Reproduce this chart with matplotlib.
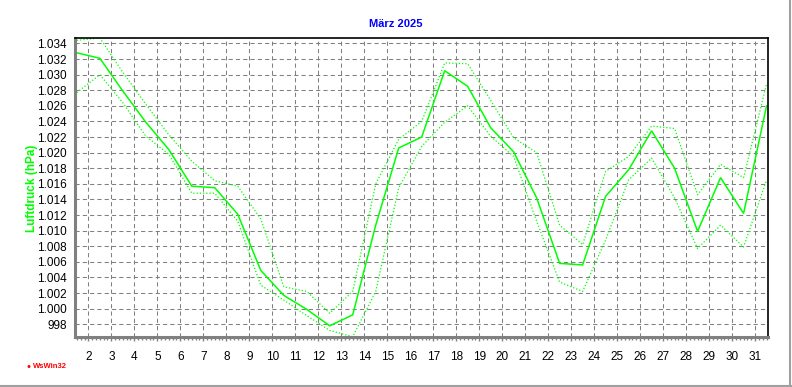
import matplotlib
matplotlib.use('Agg')
import matplotlib.pyplot as plt
from matplotlib.lines import Line2D
from matplotlib.ticker import FuncFormatter, MultipleLocator

# daily air pressure values for March 2025 (hPa), one per day
days = list(range(1, 32))
p_mean = [1032.8, 1032.1, 1027.9, 1023.9, 1020.4, 1015.7, 1015.5, 1012.1, 1004.9, 1001.7,
          999.9, 997.8, 999.2, 1010.7, 1020.6, 1022.0, 1030.5, 1028.5, 1023.2, 1020.1,
          1014.2, 1005.8, 1005.6, 1014.4, 1017.8, 1022.8, 1018.0, 1009.9, 1016.8, 1012.2,
          1026.0]
p_max = [1034.4, 1034.7, 1030.3, 1026.2, 1022.3, 1018.9, 1016.4, 1015.7, 1011.5, 1002.8,
         1002.2, 999.4, 1002.2, 1016.0, 1021.7, 1024.0, 1031.5, 1031.4, 1026.7, 1021.9,
         1020.0, 1010.7, 1008.2, 1017.6, 1019.5, 1023.4, 1023.1, 1014.6, 1018.5, 1016.8,
         1028.8]
p_min = [1027.7, 1030.0, 1026.4, 1022.1, 1019.8, 1014.8, 1014.8, 1011.2, 1003.0, 1001.1,
         999.1, 997.2, 996.4, 1002.2, 1015.5, 1020.8, 1023.9, 1026.0, 1022.1, 1019.5,
         1011.2, 1003.4, 1002.2, 1008.8, 1016.5, 1019.3, 1014.2, 1007.7, 1010.7, 1007.9,
         1016.5]
x_labels = list(range(2, 32))

plt.rcParams['font.family'] = ['Liberation Sans', 'DejaVu Sans']

fig = plt.figure(figsize=(7.92, 3.87), dpi=100)
ax = fig.add_axes([0.0947, 0.130, 0.8755, 0.7718])

# values are plotted at the middle of each day
x = [d + 0.5 for d in days]
green = '#00ff00'
ax.plot(x, p_mean, color=green, linewidth=1.1, solid_joinstyle='miter')
ax.plot(x, p_max, color=green, linewidth=0.9, linestyle=(0, (1, 1.6)))
ax.plot(x, p_min, color=green, linewidth=0.9, linestyle=(0, (1, 1.6)))

ax.set_xlim(1.42, 31.58)
ax.set_ylim(996.4, 1034.7)

# ticks and grid
ax.set_xticks(x_labels)
ax.xaxis.set_minor_locator(MultipleLocator(1 / 6))
ax.yaxis.set_major_locator(MultipleLocator(2))
ax.yaxis.set_major_formatter(FuncFormatter(lambda v, pos: f'{int(round(v)):,}'.replace(',', '.')))
ax.tick_params(axis='x', which='major', length=3, width=1, color='#808080', pad=7, labelsize=8.5)
ax.tick_params(axis='x', which='minor', length=2, width=1, color='#808080')
ax.tick_params(axis='y', which='both', length=0, pad=6, labelsize=8.5)
ax.grid(True, color='#808080', linewidth=0.75, linestyle=(0, (4, 3)))
ax.set_axisbelow(True)

# frame: thick gray left/bottom, thin black top/right
ax.spines['left'].set_color('#808080')
ax.spines['left'].set_linewidth(2.2)
ax.spines['bottom'].set_color('#808080')
ax.spines['bottom'].set_linewidth(2.2)
ax.spines['top'].set_color('black')
ax.spines['top'].set_linewidth(1.2)
ax.spines['right'].set_color('black')
ax.spines['right'].set_linewidth(1.2)

# texts
fig.text(0.5, 1 - 24 / 387, 'März 2025', color='#0000ff', fontsize=8, fontweight='bold',
         ha='center', va='center')
fig.text(32 / 792, 1 - 188 / 387, 'Luftdruck (hPa)', color=green, fontsize=8.5, fontweight='bold',
         rotation=90, ha='center', va='center')
fig.text(27 / 792, 1 - 367 / 387, '\u2022', color='#ff0000', fontsize=8, ha='left', va='center')
fig.text(33 / 792, 1 - 367 / 387, 'WsWin32', color='#ff0000', fontsize=5.5, fontweight='bold',
         ha='left', va='center')

# window-like border at bottom and right
fig.add_artist(Line2D([0, 1], [1 / 387, 1 / 387], color='#a0a0a0', linewidth=1.5))
fig.add_artist(Line2D([790 / 792, 790 / 792], [0, 1], color='#a0a0a0', linewidth=1.5))

plt.savefig('out.png', dpi=100)
